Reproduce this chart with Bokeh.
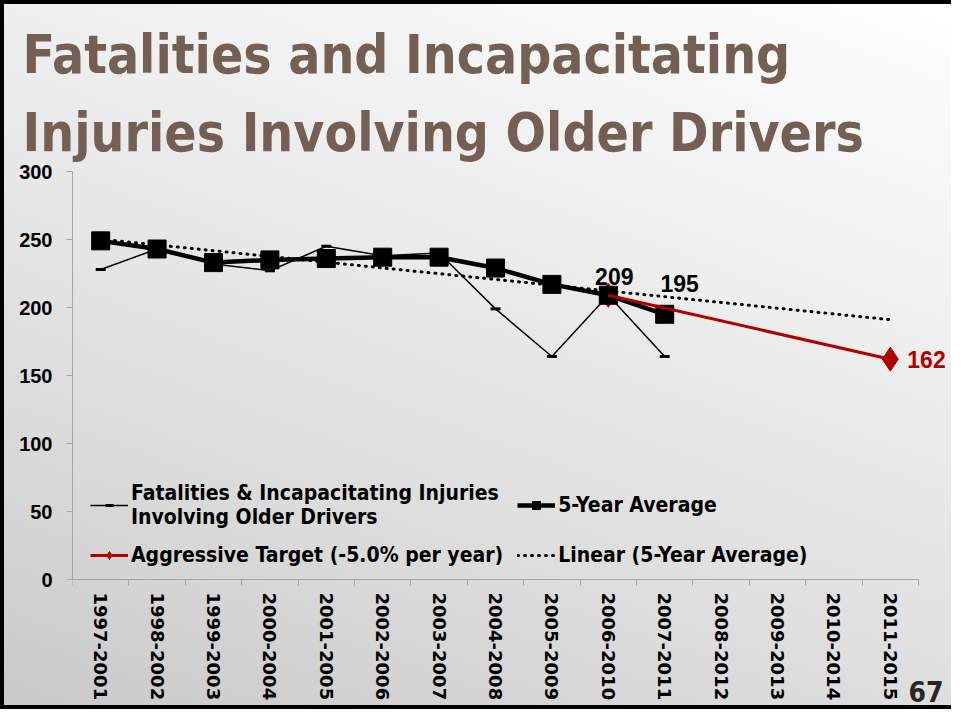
import numpy as np
from bokeh.plotting import figure
from bokeh.models import (Range1d, FixedTicker, Label, Legend, LegendItem,
                          InlineStyleSheet, Title)
from bokeh.embed import file_html
from bokeh.resources import INLINE

# ---------------- data ----------------
periods = ["1997-2001", "1998-2002", "1999-2003", "2000-2004", "2001-2005",
           "2002-2006", "2003-2007", "2004-2008", "2005-2009", "2006-2010",
           "2007-2011", "2008-2012", "2009-2013", "2010-2014", "2011-2015"]
fatal_injuries = [228, 243, 232, 227, 245, 238, 240, 199, 164, 209, 164]
five_year_avg = [249, 243, 233, 235, 236, 237, 237, 229, 217, 209, 195]
target_periods = ["2006-2010", "2011-2015"]
target_values = [209, 162]
y_ticks = [0, 50, 100, 150, 200, 250, 300]
title_lines = ["Fatalities and Incapacitating", "Injuries Involving Older Drivers"]
page_number = "67"

# ---------------- derived ----------------
idx = {p: i for i, p in enumerate(periods)}
x_obs = [idx[p] for p in periods[:len(five_year_avg)]]
x_target = [idx[p] for p in target_periods]
coef = np.polyfit(x_obs, five_year_avg, 1)          # Excel-style linear trendline
x_all = list(range(len(periods)))
trend = list(np.polyval(coef, x_all))

W, H = 951, 709
LEFT, TOP, AXIS_Y = 72, 171, 579        # frame left, top, pixel row of y = 0
n = len(periods)
px_per_unit = (AXIS_Y - TOP) / 300.0
x_end = -0.5 + (W - LEFT) / 56.4        # frame runs to the right edge
y_start = -(H - AXIS_Y) / px_per_unit   # frame runs to the bottom edge
p = figure(width=W, height=H, output_backend="svg", toolbar_location=None,
           x_range=Range1d(-0.5, x_end), y_range=Range1d(y_start, 300),
           min_border_left=LEFT, min_border_right=0, min_border_top=TOP,
           min_border_bottom=0)
p.title.visible = False
p.background_fill_color = None
p.border_fill_color = None
p.outline_line_color = None
p.grid.visible = False
p.stylesheets = [InlineStyleSheet(css=""":host {
  background: linear-gradient(200deg, #ffffff 0%, #eeeeee 35%, #dcdcdc 70%, #c9c9c9 100%);
  box-shadow: inset 4px 4px 0 #000, inset 0 -4px 0 #000;
}""")]

# axes
xa = p.xaxis[0]
xa.fixed_location = 0
xa.bounds = (-0.5, n - 0.5)
xa.ticker = FixedTicker(ticks=x_all, minor_ticks=[i - 0.5 for i in range(n + 1)])
xa.major_label_overrides = {i: s for i, s in enumerate(periods)}
xa.major_label_orientation = "vertical"
xa.major_tick_line_color = None
xa.minor_tick_line_color = "#a6a6a6"
xa.minor_tick_out = 6
xa.minor_tick_in = 0
xa.axis_line_color = "#a6a6a6"
xa.major_label_text_font = "DejaVu Sans"
xa.major_label_text_font_style = "bold"
xa.major_label_text_font_size = "18px"
xa.major_label_text_color = "#000000"
xa.major_label_standoff = 7

ya = p.yaxis[0]
ya.bounds = (0, 300)
ya.ticker = FixedTicker(ticks=y_ticks)
ya.minor_tick_line_color = None
ya.major_tick_out = 6
ya.major_tick_in = 0
ya.major_tick_line_color = "#a6a6a6"
ya.axis_line_color = "#a6a6a6"
ya.major_label_text_font = "Liberation Sans"
ya.major_label_text_font_style = "bold"
ya.major_label_text_font_size = "20px"
ya.major_label_text_color = "#000000"
ya.major_label_standoff = 14

# series
raw_line = p.line(x_obs, fatal_injuries, line_color="black", line_width=1.5)
raw_pts = p.scatter(x_obs, fatal_injuries, marker="dash", size=10,
                    line_color="black", line_width=3)
tgt_pts = p.scatter(x_target, target_values, marker="diamond", size=24,
                    fill_color="#b00000", line_color="#b00000")
avg_line = p.line(x_obs, five_year_avg, line_color="black", line_width=4.5)
avg_pts = p.scatter(x_obs, five_year_avg, marker="square", size=18,
                    fill_color="black", line_color="black")
trend_line = p.line(x_all, trend, line_color="black", line_width=3,
                    line_dash="1 6", line_cap="round")
tgt_line = p.line(x_target, target_values, line_color="#b00000", line_width=3)

# data labels
lab_font = "Liberation Sans"
p.add_layout(Label(x=x_obs[9], y=five_year_avg[9], text=str(five_year_avg[9]),
                   x_offset=6, y_offset=10, text_align="center",
                   text_font=lab_font, text_font_style="bold",
                   text_font_size="23px", text_color="black"))
p.add_layout(Label(x=x_obs[10], y=five_year_avg[10], text=str(five_year_avg[10]),
                   x_offset=15, y_offset=22, text_align="center",
                   text_font=lab_font, text_font_style="bold",
                   text_font_size="23px", text_color="black"))
p.add_layout(Label(x=x_target[1], y=target_values[1], text=str(target_values[1]),
                   x_offset=17, y_offset=0, text_align="left",
                   text_baseline="middle", text_font=lab_font,
                   text_font_style="bold", text_font_size="23px",
                   text_color="#b00000"))

# legend
cond_font = "DejaVu Sans Condensed, Roboto Condensed, Liberation Sans Narrow, Liberation Sans"
legend = Legend(items=[
    LegendItem(label="Fatalities & Incapacitating Injuries\nInvolving Older Drivers",
               renderers=[raw_line, raw_pts]),
    LegendItem(label="5-Year Average", renderers=[avg_line, avg_pts]),
    LegendItem(label="Aggressive Target (-5.0% per year)", renderers=[tgt_line, tgt_pts]),
    LegendItem(label="Linear (5-Year Average)", renderers=[trend_line]),
], ncols=2, location=(18, H - 567), orientation="horizontal")
legend.label_text_font = cond_font
legend.label_text_font_style = "bold"
legend.label_text_font_size = "21px"
legend.label_text_color = "black"
legend.glyph_width = 38
legend.glyph_height = 20
legend.label_standoff = 3
legend.spacing = 14
legend.padding = 0
legend.margin = 0
legend.border_line_color = None
legend.background_fill_alpha = 0
p.add_layout(legend)

# title (two lines), added nearest-to-plot first
for line, so in zip(reversed(title_lines), (18, 12)):
    t = Title(text=line, align="left", offset=-50, text_font=cond_font,
              text_font_style="bold", text_font_size="53px",
              text_color="#745f55", standoff=so)
    p.add_layout(t, "above")

# page number (bottom-right corner, kept inside the frame)
p.add_layout(Label(x=W - LEFT - 8, y=8, x_units="screen", y_units="screen",
                   text=page_number, text_align="right", text_font=cond_font,
                   text_font_style="bold", text_font_size="28px",
                   text_color="#2b2420"))

open("out.html", "w").write(file_html(p, INLINE))
